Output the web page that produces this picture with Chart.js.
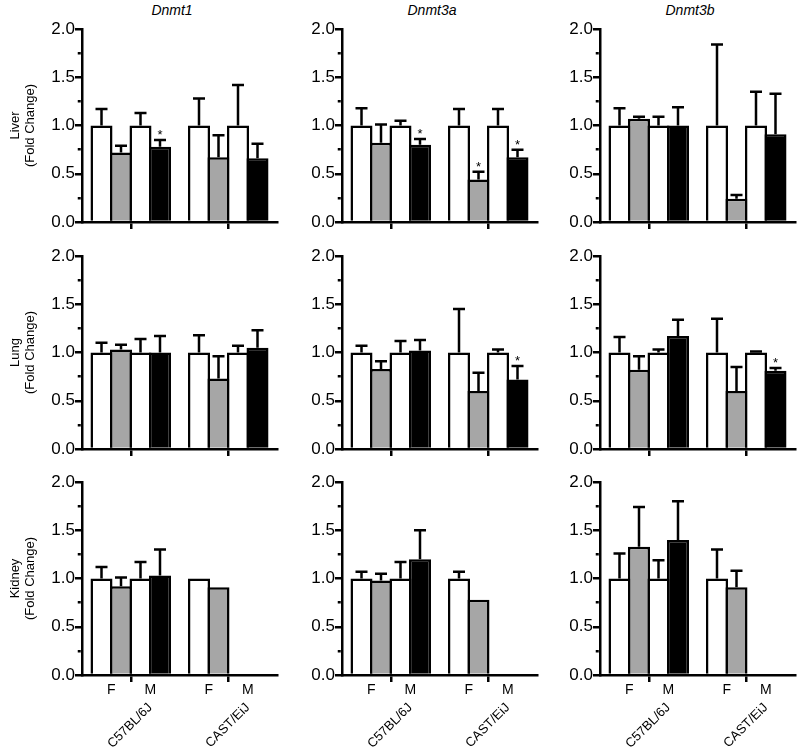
<!DOCTYPE html>
<html>
<head>
<meta charset="utf-8">
<script src="https://cdn.jsdelivr.net/npm/chart.js@4.4.1/dist/chart.umd.min.js"></script>
<style>
  html, body { margin: 0; padding: 0; background: #fff; }
  #fig { position: relative; width: 800px; height: 755px; overflow: hidden; font-family: "Liberation Sans", Arial, sans-serif; }
  .panel { position: absolute; width: 280px; }
  .gene { position: absolute; top: 2px; width: 120px; margin-left: -60px; text-align: center; font-style: italic; font-size: 14px; color: #000; }
</style>
</head>
<body>
<div id="fig"></div>
<script>
const genes = ['Dnmt1', 'Dnmt3a', 'Dnmt3b'];
const tissues = ['Liver', 'Lung', 'Kidney'];
const strains = ['C57BL/6J', 'CAST/EiJ'];
const sexes = ['F', 'M'];

// bar order in every panel: C57 F (white, grey), C57 M (white, black), CAST F (white, grey), CAST M (white, black)
const liverMeans = [
  [1, 0.72, 1, 0.78, 1, 0.67, 1, 0.66],
  [1, 0.82, 1, 0.80, 1, 0.44, 1, 0.67],
  [1, 1.07, 1, 1.00, 1, 0.24, 1, 0.91]
];
const liverErrs = [
  [0.17, 0.07, 0.13, 0.07, 0.28, 0.23, 0.42, 0.15],
  [0.18, 0.19, 0.05, 0.06, 0.17, 0.08, 0.17, 0.08],
  [0.18, 0.02, 0.09, 0.19, 0.84, 0.04, 0.35, 0.42]
];
const liverStars = [
  [0, 0, 0, 1, 0, 0, 0, 0],
  [0, 0, 0, 1, 0, 1, 0, 1],
  [0, 0, 0, 0, 0, 0, 0, 0]
];

const lungMeans = [
  [1, 1.03, 1, 1.00, 1, 0.73, 1, 1.05],
  [1, 0.83, 1, 1.02, 1, 0.60, 1, 0.72],
  [1, 0.82, 1, 1.17, 1, 0.60, 1, 0.81]
];
const lungErrs = [
  [0.10, 0.05, 0.14, 0.17, 0.18, 0.23, 0.07, 0.18],
  [0.07, 0.08, 0.12, 0.11, 0.45, 0.19, 0.03, 0.14],
  [0.16, 0.14, 0.03, 0.17, 0.35, 0.25, 0.01, 0.03]
];
const lungStars = [
  [0, 0, 0, 0, 0, 0, 0, 0],
  [0, 0, 0, 0, 0, 0, 0, 1],
  [0, 0, 0, 0, 0, 0, 0, 1]
];

const kidneyMeans = [
  [1, 0.92, 1, 1.03, 1, 0.91, null, null],
  [1, 0.98, 1, 1.20, 1, 0.78, null, null],
  [1, 1.33, 1, 1.40, 1, 0.91, null, null]
];
const kidneyErrs = [
  [0.12, 0.09, 0.17, 0.27, 0, 0, 0, 0],
  [0.07, 0.07, 0.17, 0.30, 0.07, 0, 0, 0],
  [0.26, 0.41, 0.19, 0.40, 0.30, 0.17, 0, 0]
];
const kidneyStars = [
  [0, 0, 0, 0, 0, 0, 0, 0],
  [0, 0, 0, 0, 0, 0, 0, 0],
  [0, 0, 0, 0, 0, 0, 0, 0]
];

const allMeans = [liverMeans, lungMeans, kidneyMeans];
const allErrs = [liverErrs, lungErrs, kidneyErrs];
const allStars = [liverStars, lungStars, kidneyStars];

const FONT = '"Liberation Sans", Arial, sans-serif';
const GREY = '#a6a6a6';
const LW = 2.5;

// x slot of bar i: strains 5 slots apart, sexes 2 apart, pair side by side
function slotOf(i) {
  const s = Math.floor(i / 4), k = Math.floor((i % 4) / 2), j = i % 2;
  return 1 + s * 5 + k * 2 + j;
}
const groupTicks = strains.map((s, si) => 2.5 + si * 5);
const sexTicks = [];
const sexLabels = [];
strains.forEach((s, si) => sexes.forEach((x, k) => { sexTicks.push(1.5 + si * 5 + k * 2); sexLabels.push(x); }));
const strainTicks = strains.map((s, si) => 3.5 + si * 5);

function errorBars(means, errs, stars) {
  return {
    id: 'errbars',
    afterDatasetsDraw(chart) {
      const { ctx } = chart;
      const xs = chart.scales.x, ys = chart.scales.y;
      ctx.save();
      ctx.strokeStyle = '#000';
      ctx.fillStyle = '#000';
      ctx.lineWidth = LW;
      means.forEach((m, i) => {
        if (m == null) return;
        const cx = xs.getPixelForValue(slotOf(i));
        const yTop = ys.getPixelForValue(m);
        const yCap = ys.getPixelForValue(m + errs[i]);
        if (errs[i] > 0) {
          ctx.beginPath();
          ctx.moveTo(cx, yTop);
          ctx.lineTo(cx, yCap);
          ctx.moveTo(cx - 6, yCap);
          ctx.lineTo(cx + 6, yCap);
          ctx.stroke();
        }
        if (stars[i]) {
          ctx.font = '13px ' + FONT;
          ctx.textAlign = 'center';
          ctx.textBaseline = 'alphabetic';
          ctx.fillText('*', cx, yCap - 1);
        }
      });
      ctx.restore();
    }
  };
}

const fig = document.getElementById('fig');
const colLeft = [0, 260, 518];
const rowTop = [0, 227, 453];

genes.forEach((g, c) => {
  const t = document.createElement('div');
  t.className = 'gene';
  t.style.left = (colLeft[c] + 172) + 'px';
  t.textContent = g;
  fig.appendChild(t);
});

function makePanel(r, c) {
  const last = r === tissues.length - 1;
  const wrap = document.createElement('div');
  wrap.className = 'panel';
  wrap.style.left = colLeft[c] + 'px';
  wrap.style.top = rowTop[r] + 'px';
  wrap.style.height = (last ? 302 : 233) + 'px';
  const cv = document.createElement('canvas');
  wrap.appendChild(cv);
  fig.appendChild(wrap);

  const means = allMeans[r][c];
  const fills = means.map((m, i) => (i % 2 === 0 ? '#fff' : (i % 4 === 1 ? GREY : '#000')));

  const scales = {
    x: {
      type: 'linear', min: 0, max: 10, offset: false,
      border: { display: true, color: '#000', width: LW },
      grid: { drawOnChartArea: false, offset: false, color: '#000', lineWidth: LW, tickLength: 7 },
      ticks: { display: false },
      afterBuildTicks: s => { s.ticks = groupTicks.map(v => ({ value: v })); },
      afterFit: s => { s.height = 7; }
    },
    y: {
      min: 0, max: 2,
      border: { display: true, color: '#000', width: LW },
      grid: {
        drawOnChartArea: false, color: '#000', lineWidth: LW, tickLength: 7,
        tickBorderDash: ctx => ((ctx.tick.value * 2) % 1 === 0 ? [] : [0, 2.75, 3, 50])
      },
      ticks: {
        stepSize: 0.25, padding: 0, color: '#000',
        font: { family: FONT, size: 17, lineHeight: 1 },
        callback: v => ((v * 2) % 1 === 0 ? v.toFixed(1) : '')
      },
      title: {
        display: c === 0, text: [tissues[r], '(Fold Change)'], color: '#000',
        font: { family: FONT, size: 13, lineHeight: 1.15 },
        padding: { top: 8, bottom: 0 }
      },
      afterFit: s => { s.width = 82; }
    }
  };

  if (last) {
    scales.xSex = {
      type: 'linear', position: 'bottom', min: 0, max: 10, offset: false,
      border: { display: false },
      grid: { display: false, drawTicks: false },
      ticks: {
        autoSkip: false, maxRotation: 0, padding: 0, color: '#000',
        font: { family: FONT, size: 14 },
        callback: (v, i) => sexLabels[i]
      },
      afterBuildTicks: s => { s.ticks = sexTicks.map(v => ({ value: v })); },
      afterFit: s => { s.height = 18; }
    };
    scales.xStrain = {
      type: 'linear', position: 'bottom', min: 0, max: 10, offset: false,
      border: { display: false },
      grid: { display: false, drawTicks: false },
      ticks: {
        autoSkip: false, minRotation: 45, maxRotation: 45, padding: 0, color: '#000',
        font: { family: FONT, size: 13 },
        callback: (v, i) => strains[i]
      },
      afterBuildTicks: s => { s.ticks = strainTicks.map(v => ({ value: v })); },
      afterFit: s => { s.height = 55; }
    };
  }

  new Chart(cv, {
    type: 'bar',
    data: {
      datasets: [{
        data: means.map((m, i) => ({ x: slotOf(i), y: m })),
        backgroundColor: fills,
        borderColor: '#000',
        borderWidth: LW,
        categoryPercentage: 1,
        barPercentage: 1.13
      }]
    },
    options: {
      responsive: true,
      maintainAspectRatio: false,
      animation: false,
      layout: { padding: { left: 0, top: 29, right: 3, bottom: last ? 0 : 4 } },
      plugins: { legend: { display: false }, tooltip: { enabled: false } },
      scales
    },
    plugins: [errorBars(means, allErrs[r][c], allStars[r][c])]
  });
}

tissues.forEach((t, r) => genes.forEach((g, c) => makePanel(r, c)));
</script>
</body>
</html>
